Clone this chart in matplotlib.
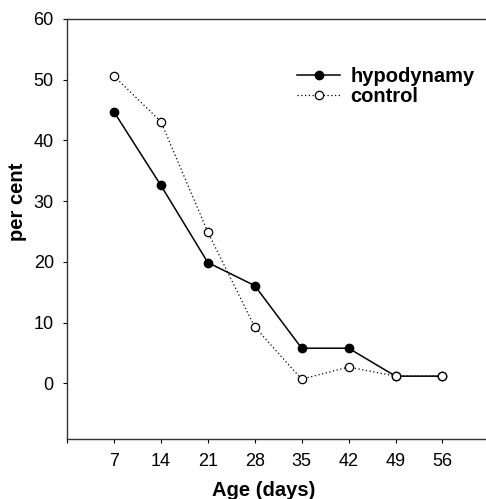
import matplotlib
matplotlib.use("Agg")
import matplotlib.pyplot as plt

plt.rcParams['font.family'] = ['Liberation Sans', 'DejaVu Sans']

# data
age_days = [7, 14, 21, 28, 35, 42, 49, 56]
hypodynamy = [44.7, 32.6, 19.9, 16.1, 5.8, 5.8, 1.2, 1.2]
control = [50.6, 43.1, 24.9, 9.3, 0.7, 2.7, 1.2, 1.2]
y_ticks = [0, 10, 20, 30, 40, 50, 60]

fig = plt.figure(figsize=(4.86, 4.99), dpi=100)
ax = fig.add_axes([0.138, 0.1196, 0.862, 0.8424])

ax.plot(age_days, hypodynamy, color="black", lw=1.1, marker="o", ms=6,
        mfc="black", mec="black", label="hypodynamy", zorder=2)
ax.plot(age_days, control, color="black", lw=0.9, ls=(0, (1, 2)), marker="o", ms=6,
        mfc="white", mec="black", mew=0.9, label="control", zorder=3)

ax.set_xlim(0, 62.5)
ax.set_ylim(-9.2, 60)
ax.set_xticks([0] + age_days)
ax.set_xticklabels([""] + [str(a) for a in age_days])
ax.set_yticks(y_ticks)

for side in ["left", "bottom", "top"]:
    ax.spines[side].set_linewidth(1.0)
    ax.spines[side].set_color("#333333")
ax.spines["right"].set_visible(False)

ax.tick_params(axis="both", direction="out", length=3, width=0.8,
               labelsize=13, colors="black")
ax.tick_params(axis="x", pad=7)
ax.tick_params(axis="y", pad=6.5)

ax.set_xlabel("Age (days)", fontsize=14.5, fontweight="bold", va="baseline")
ax.xaxis.set_label_coords(0.470, -0.135)
ax.set_ylabel("per cent", fontsize=14.5, fontweight="bold", va="center")
ax.yaxis.set_label_coords(-0.119, 0.565)

leg = ax.legend(loc="upper left", bbox_to_anchor=(0.549, 0.886), frameon=False,
                prop={"weight": "bold", "size": 14.5}, handlelength=2.15,
                handletextpad=0.5, labelspacing=0.05, borderaxespad=0, borderpad=0)

fig.savefig("out.png", dpi=100)
